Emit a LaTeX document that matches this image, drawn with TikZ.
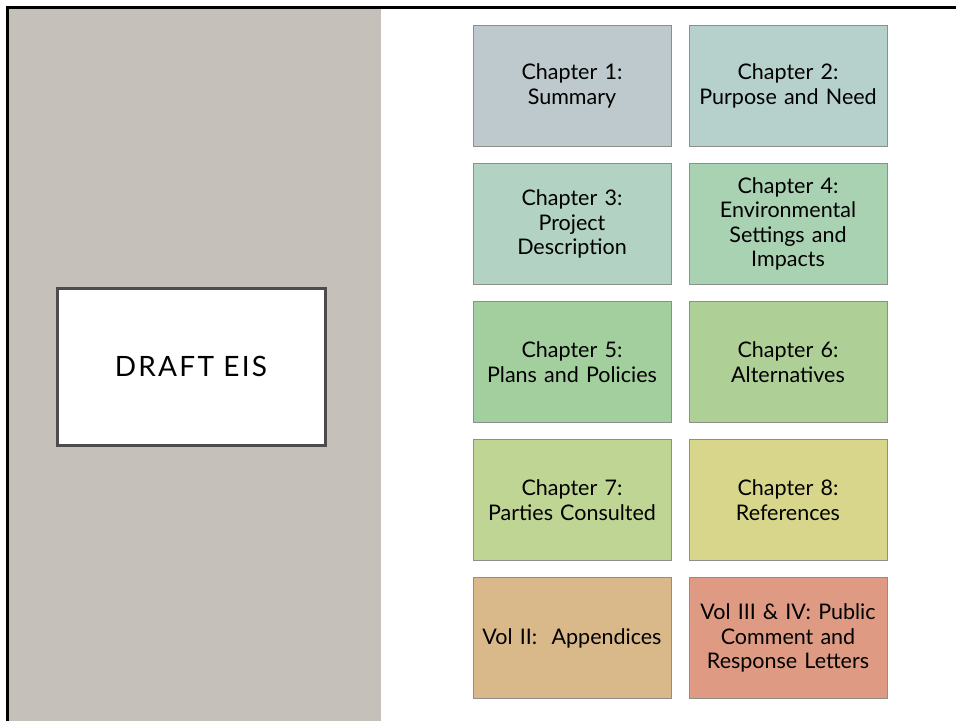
\documentclass[tikz,border=0pt]{standalone}
\usepackage{fontspec}
\setmainfont{Lato}
\definecolor{panel}{HTML}{C5C0B9}
\definecolor{cA}{HTML}{BDC9CC}
\definecolor{cB}{HTML}{B6D0CB}
\definecolor{cC}{HTML}{B2D3C3}
\definecolor{cD}{HTML}{A9D2B2}
\definecolor{cE}{HTML}{A3CF9E}
\definecolor{cF}{HTML}{AED096}
\definecolor{cG}{HTML}{BFD594}
\definecolor{cH}{HTML}{D7D68B}
\definecolor{cI}{HTML}{D9B989}
\definecolor{cJ}{HTML}{DE9A83}
\definecolor{boxline}{HTML}{8E8E8A}
\tikzset{
  chapbox/.style={draw=boxline, line width=1pt, minimum width=198pt, minimum height=121pt,
    inner sep=2pt, align=center, text width=194pt, anchor=north west,
    font=\fontsize{21.5}{24.5}\selectfont, text=black},
}
\begin{document}
\begin{tikzpicture}[x=1pt,y=-1pt]
\useasboundingbox (0,0) rectangle (956,721);
\fill[white] (0,0) rectangle (956,721);
\fill[panel] (9,9) rectangle (381,721);
\draw[line width=3pt, black] (956,7.5) -- (7.5,7.5) -- (7.5,721);
\node[draw=black!70, line width=3pt, fill=white, minimum width=268pt, minimum height=157pt,
  font=\fontsize{28}{30}\selectfont\addfontfeature{LetterSpace=8}, text=black] (eis) at (191,366.5) {DRAFT EIS};
\node[chapbox, fill=cA] (c1) at (472.5,25) {Chapter 1:\\Summary};
\node[chapbox, fill=cB] (c2) at (688.5,25) {Chapter 2:\\Purpose and Need};
\node[chapbox, fill=cC] (c3) at (472.5,163) {Chapter 3:\\Project\\Description};
\node[chapbox, fill=cD] (c4) at (688.5,163) {Chapter 4:\\Environmental\\Settings and\\Impacts};
\node[chapbox, fill=cE] (c5) at (472.5,301) {Chapter 5:\\Plans and Policies};
\node[chapbox, fill=cF] (c6) at (688.5,301) {Chapter 6:\\Alternatives};
\node[chapbox, fill=cG] (c7) at (472.5,439) {Chapter 7:\\Parties Consulted};
\node[chapbox, fill=cH] (c8) at (688.5,439) {Chapter 8:\\References};
\node[chapbox, fill=cI] (v2) at (472.5,577) {Vol II:\ \ Appendices};
\node[chapbox, fill=cJ] (v3) at (688.5,577) {Vol III \& IV: Public\\Comment and\\Response Letters};
\end{tikzpicture}
\end{document}
